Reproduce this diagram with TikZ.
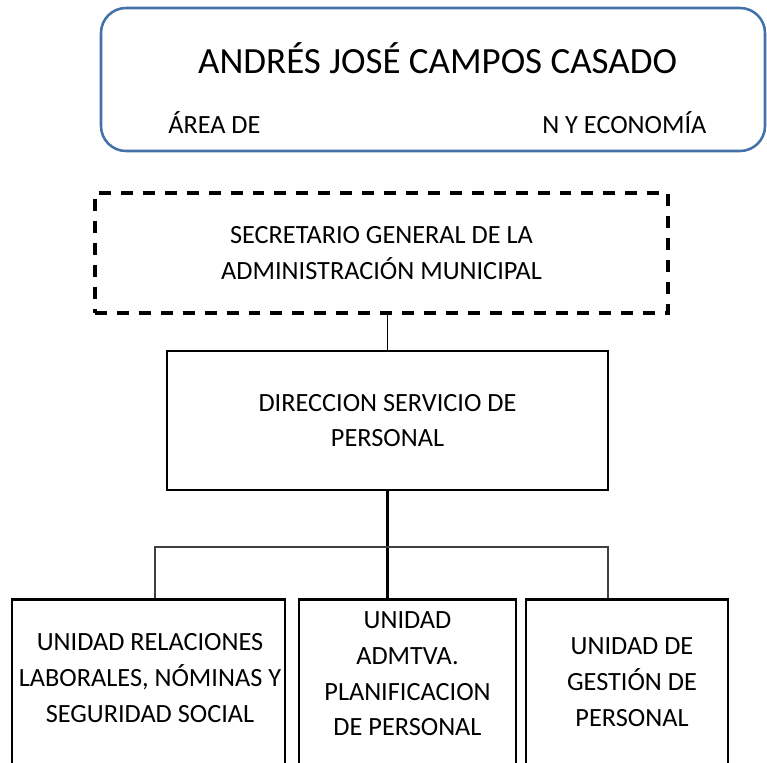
\documentclass[tikz,border=0pt]{standalone}
\usepackage{fontspec}
\setmainfont{Carlito}
\definecolor{cardblue}{RGB}{68,114,168}
\tikzset{
  bodytext/.style={align=center, inner sep=0, font=\fontsize{18.7}{25.4}\selectfont},
  orgbox/.style={draw=black, line width=1.9pt, rectangle, align=center, inner sep=0, font=\fontsize{18.7}{25.4}\selectfont},
  unitbox/.style={draw=black, line width=1.9pt, rectangle, anchor=north, minimum height=4.5cm},
  trunk/.style={-, line width=1.7pt, color=black},
  branch/.style={-, line width=1pt, color=black!75},
}
\begin{document}
\begin{tikzpicture}
\useasboundingbox (0, 0) rectangle (19.175, -19.05);

\node[draw=cardblue, line width=1.8pt, rounded corners=0.625cm, minimum width=16.6cm, minimum height=3.575cm] (card) at (10.825, -1.9875) {};
\node[anchor=base, inner sep=0, font=\fontsize{26.3}{31}\selectfont] (name) at (10.94, -1.825) {ANDRÉS JOSÉ CAMPOS CASADO};
\node[bodytext, anchor=base west] (area) at (4.2, -3.325) {ÁREA DE};
\node[bodytext, anchor=base west] (economia) at (13.55, -3.325) {N Y ECONOMÍA};

\node[orgbox, line width=2.3pt, dash pattern=on 8.5pt off 7.1pt, minimum width=14.325cm, minimum height=3cm] (secretario) at (9.5375, -6.325) {SECRETARIO GENERAL DE LA\\ADMINISTRACIÓN MUNICIPAL};
\node[orgbox, minimum width=11.025cm, minimum height=3.475cm] (direccion) at (9.6875, -10.5125) {DIRECCION SERVICIO DE\\PERSONAL};

\node[unitbox, minimum width=6.825cm] (relaciones) at (3.7125, -14.95) {};
\node[unitbox, minimum width=5.425cm] (planificacion) at (10.1875, -14.95) {};
\node[unitbox, minimum width=5.05cm] (gestion) at (15.675, -14.95) {};

\node[bodytext] (relacionestext) at (3.75, -16.95) {UNIDAD RELACIONES\\LABORALES, NÓMINAS Y\\SEGURIDAD SOCIAL};
\node[bodytext] (planificaciontext) at (10.1875, -16.85) {UNIDAD\\ADMTVA.\\PLANIFICACION\\DE PERSONAL};
\node[bodytext] (gestiontext) at (15.8, -17.05) {UNIDAD DE\\GESTIÓN DE\\PERSONAL};

\coordinate (fork) at (9.6875, -13.675);
\coordinate (leftdrop) at (3.875, -13.675);
\coordinate (rightdrop) at (15.2, -13.675);

\draw[trunk, line width=1.4pt] (secretario.south -| direccion.north) -- (direccion.north) {};
\draw[trunk] (direccion.south) -- (fork) -- (fork |- planificacion.north) {};
\draw[branch] (leftdrop |- relaciones.north) -- (leftdrop) -- (rightdrop) -- (rightdrop |- gestion.north) {};

\end{tikzpicture}
\end{document}
